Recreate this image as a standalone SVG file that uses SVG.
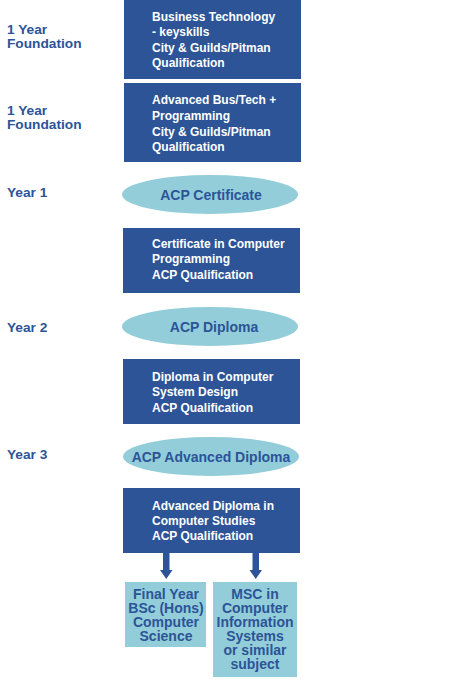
<svg xmlns="http://www.w3.org/2000/svg" width="460" height="680" viewBox="0 0 460 680">
<defs>
<style>
.box{fill:#2c5497}
.lt{fill:#92cdd9}
.bt{font-family:"Liberation Sans",Arial,sans-serif;font-weight:bold;font-size:12px;fill:#ffffff}
.lbl{font-family:"Liberation Sans",Arial,sans-serif;font-weight:bold;font-size:13.7px;fill:#2c5497}
.et{font-family:"Liberation Sans",Arial,sans-serif;font-weight:bold;font-size:14px;fill:#2c5497;text-anchor:middle}
.ct{font-family:"Liberation Sans",Arial,sans-serif;font-weight:bold;font-size:14px;fill:#2c5497;text-anchor:middle}
.arr{fill:#2c5497}
</style>
</defs>
<rect width="460" height="680" fill="#ffffff"/>
<g id="labels">
<text class="lbl" x="7" y="34">1 Year</text>
<text class="lbl" x="7" y="48">Foundation</text>
<text class="lbl" x="7" y="115">1 Year</text>
<text class="lbl" x="7" y="129">Foundation</text>
<text class="lbl" x="7" y="197">Year 1</text>
<text class="lbl" x="7" y="332">Year 2</text>
<text class="lbl" x="7" y="459">Year 3</text>
</g>
<g id="n1">
<rect class="box" x="124" y="0" width="177" height="79"/>
<text class="bt" x="152" y="21">Business Technology</text>
<text class="bt" x="152" y="36">- keyskills</text>
<text class="bt" x="152" y="52">City &amp; Guilds/Pitman</text>
<text class="bt" x="152" y="67">Qualification</text>
</g>
<g id="n2">
<rect class="box" x="124" y="83" width="177" height="79"/>
<text class="bt" x="152" y="104">Advanced Bus/Tech +</text>
<text class="bt" x="152" y="120">Programming</text>
<text class="bt" x="152" y="136">City &amp; Guilds/Pitman</text>
<text class="bt" x="152" y="151">Qualification</text>
</g>
<g id="e1">
<ellipse class="lt" cx="210" cy="194.5" rx="88" ry="19.5"/>
<text class="et" x="211" y="199.5">ACP Certificate</text>
</g>
<g id="n3">
<rect class="box" x="123" y="228" width="177" height="65"/>
<text class="bt" x="152" y="248">Certificate in Computer</text>
<text class="bt" x="152" y="263">Programming</text>
<text class="bt" x="152" y="279">ACP Qualification</text>
</g>
<g id="e2">
<ellipse class="lt" cx="210" cy="326.5" rx="88" ry="19.5"/>
<text class="et" x="214" y="332">ACP Diploma</text>
</g>
<g id="n4">
<rect class="box" x="123" y="359" width="177" height="65"/>
<text class="bt" x="152" y="381">Diploma in Computer</text>
<text class="bt" x="152" y="396">System Design</text>
<text class="bt" x="152" y="412">ACP Qualification</text>
</g>
<g id="e3">
<ellipse class="lt" cx="211" cy="456.5" rx="88" ry="19.5"/>
<text class="et" x="211" y="461.5">ACP Advanced Diploma</text>
</g>
<g id="n5">
<rect class="box" x="123" y="488" width="177" height="65"/>
<text class="bt" x="152" y="510">Advanced Diploma in</text>
<text class="bt" x="152" y="525">Computer Studies</text>
<text class="bt" x="152" y="540">ACP Qualification</text>
</g>
<g id="connectors">
<path class="arr" d="M163,553 H169.5 V570 H172.5 L166.25,579 L160,570 H163 Z"/>
<path class="arr" d="M252.5,553 H259 V570 H262 L255.75,579 L249.5,570 H252.5 Z"/>
</g>
<g id="n6">
<rect class="lt" x="125" y="582" width="81" height="65"/>
<text class="ct" x="166" y="598.5">Final Year</text>
<text class="ct" x="166" y="613">BSc (Hons)</text>
<text class="ct" x="166" y="627">Computer</text>
<text class="ct" x="166" y="641">Science</text>
</g>
<g id="n7">
<rect class="lt" x="213" y="582" width="84" height="95"/>
<text class="ct" x="255" y="598.5">MSC in</text>
<text class="ct" x="255" y="613">Computer</text>
<text class="ct" x="255" y="627">Information</text>
<text class="ct" x="255" y="641">Systems</text>
<text class="ct" x="255" y="655">or similar</text>
<text class="ct" x="255" y="669">subject</text>
</g>
</svg>
